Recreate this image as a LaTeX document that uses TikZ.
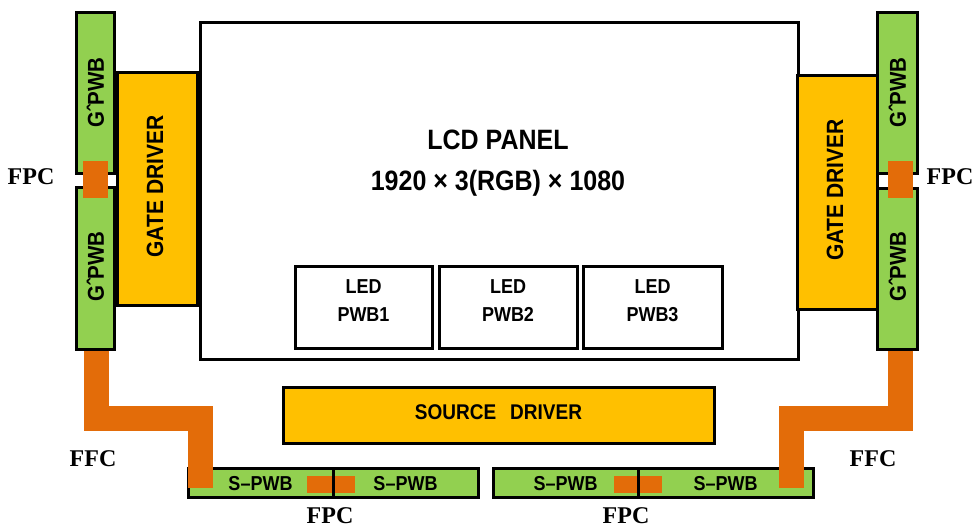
\documentclass[tikz,border=0pt]{standalone}
\usepackage{fontspec}
\setmainfont{Liberation Serif}
\setsansfont{Liberation Sans}
\usetikzlibrary{calc}
\definecolor{pwbgreen}{HTML}{92D050}
\definecolor{drvyellow}{HTML}{FFC000}
\definecolor{cableorange}{HTML}{E36C09}
\newcommand{\tallsans}[2]{{\sffamily\bfseries\fontsize{#1}{#1}\selectfont\scalebox{1}[1.12]{#2}}}
\begin{document}
\begin{tikzpicture}[x=1pt,y=-1pt,
  box/.style={draw=black, line width=3pt, inner sep=0pt, outer sep=0pt, rectangle},
  pwb/.style={box, fill=pwbgreen},
  drv/.style={box, fill=drvyellow},
  plainbox/.style={box, fill=white},
  conn/.style={fill=cableorange, draw=none, inner sep=0pt, outer sep=0pt, rectangle},
  ffc/.style={draw=cableorange, line width=25pt, line cap=butt, line join=miter},
  lbl/.style={font=\bfseries\fontsize{24}{24}\selectfont, inner sep=0pt},
  txt/.style={inner sep=0pt},
  divider/.style={draw=black, line width=3pt}
]
\useasboundingbox (0,0) rectangle (977,528);

% LCD panel
\node[plainbox, minimum width=598, minimum height=337] (panel) at (499,190.5) {};
\node[txt] (title) at (498,140) {\tallsans{25}{LCD PANEL}};
\node[txt] (res) at (498,183) {\tallsans{25}{1920 × 3(RGB) × 1080}};

% LED boards
\node[plainbox, minimum width=137, minimum height=82] (led1) at (363.5,307) {};
\node[plainbox, minimum width=138, minimum height=82] (led2) at (508,307) {};
\node[plainbox, minimum width=139, minimum height=82] (led3) at (652.5,307) {};
\node[txt] at ($(led1)+(0,-20)$) {\tallsans{18}{LED}};
\node[txt] at ($(led1)+(0,7.5)$) {\tallsans{18}{PWB1}};
\node[txt] at ($(led2)+(0,-20)$) {\tallsans{18}{LED}};
\node[txt] at ($(led2)+(0,7.5)$) {\tallsans{18}{PWB2}};
\node[txt] at ($(led3)+(0,-20)$) {\tallsans{18}{LED}};
\node[txt] at ($(led3)+(0,7.5)$) {\tallsans{18}{PWB3}};

% Gate drivers
\node[drv, minimum width=80, minimum height=233] (gdl) at (157,188.5) {};
\node[drv, minimum width=80, minimum height=234] (gdr) at (837,192) {};
\node[txt, rotate=90] at (155,186.5) {\tallsans{21}{GATE DRIVER}};
\node[txt, rotate=90] at (835,190) {\tallsans{21}{GATE DRIVER}};

% G^PWB boards
\node[pwb, minimum width=38, minimum height=161] (gpl1) at (95,93) {};
\node[pwb, minimum width=38, minimum height=162] (gpl2) at (95,268) {};
\node[pwb, minimum width=40, minimum height=161] (gpr1) at (897,92.5) {};
\node[pwb, minimum width=40, minimum height=161] (gpr2) at (897,268.5) {};
\node[txt, rotate=90] at (95.5,92.5) {\tallsans{20.5}{GˆPWB}};
\node[txt, rotate=90] at (95.5,266.5) {\tallsans{20.5}{GˆPWB}};
\node[txt, rotate=90] at (897.5,92.5) {\tallsans{20.5}{GˆPWB}};
\node[txt, rotate=90] at (897.5,266.5) {\tallsans{20.5}{GˆPWB}};

% Source driver
\node[drv, minimum width=431, minimum height=56] (src) at (498.5,415) {};
\node[txt] at (498.5,412) {\tallsans{19}{SOURCE\hspace{14pt}DRIVER}};

% S-PWB boards
\node[pwb, minimum width=145, minimum height=29] (spl1) at (260.5,482.5) {};
\node[pwb, minimum width=145, minimum height=29] (spl2) at (405.5,482.5) {};
\node[pwb, minimum width=145, minimum height=29] (spr1) at (565.5,482.5) {};
\node[pwb, minimum width=175, minimum height=29] (spr2) at (725.5,482.5) {};
\node[txt] at ($(spl1)+(0,1.5)$) {\tallsans{18}{S–PWB}};
\node[txt] at ($(spl2)+(0,1.5)$) {\tallsans{18}{S–PWB}};
\node[txt] at ($(spr1)+(0,1.5)$) {\tallsans{18}{S–PWB}};
\node[txt] at ($(spr2)+(0,1.5)$) {\tallsans{18}{S–PWB}};

% FPC connectors
\node[conn, minimum width=25, minimum height=37] (fpcl) at (95.5,179.5) {};
\node[conn, minimum width=25, minimum height=37] (fpcr) at (900.5,179.5) {};
\node[conn, minimum width=48, minimum height=17] (fpcbl) at (331,484.5) {};
\node[conn, minimum width=48, minimum height=17] (fpcbr) at (638,484.5) {};
\draw[divider] (spl1.north east) -- (spl1.south east);
\draw[divider] (spr1.north east) -- (spr1.south east);

% FFC cables
\coordinate (ffclend) at (200.5,488);
\coordinate (ffcrend) at (791.5,488);
\draw[ffc] ($(gpl2.south)+(1.5,1.5)$) -- ++(0,68) -| (ffclend);
\draw[ffc] ($(gpr2.south)+(3.5,1.5)$) -- ++(0,68) -| (ffcrend);

% Labels
\node[lbl] at (31,177) {FPC};
\node[lbl] at (950,177) {FPC};
\node[lbl] at (93,459) {FFC};
\node[lbl] at (873,459) {FFC};
\node[lbl] at (330,516) {FPC};
\node[lbl] at (626,516) {FPC};
\end{tikzpicture}
\end{document}
